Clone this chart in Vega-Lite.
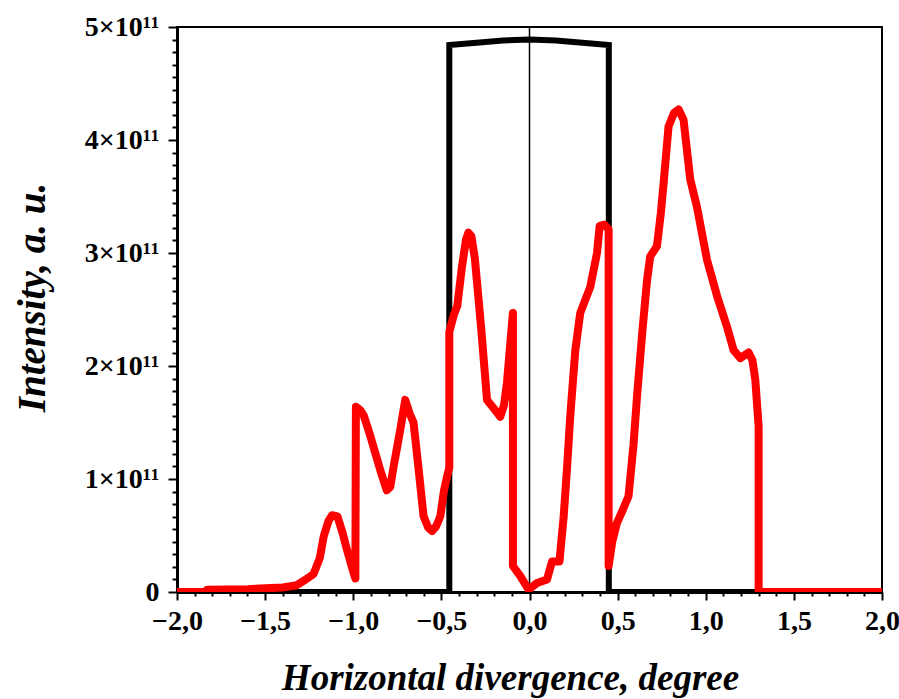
{
  "$schema": "https://vega.github.io/schema/vega-lite/v6.json",
  "width": 705,
  "height": 565,
  "autosize": "none",
  "padding": {"left": 177, "top": 27, "right": 17, "bottom": 107},
  "background": "white",
  "config": {
    "view": {"stroke": "black", "strokeWidth": 2},
    "font": "Liberation Serif",
    "axis": {
      "grid": false,
      "domainColor": "black",
      "domainWidth": 3,
      "tickColor": "black",
      "tickWidth": 2,
      "labelFont": "Liberation Serif",
      "labelFontWeight": "bold",
      "labelFontSize": 28,
      "labelColor": "black",
      "titleFont": "Liberation Serif",
      "titleFontWeight": "bold",
      "titleFontStyle": "italic",
      "titleFontSize": 37,
      "titleColor": "black"
    }
  },
  "datasets": {
    "black": [
      {"i": 0, "x": -2.0, "y": 0},
      {"i": 1, "x": -0.455, "y": 0},
      {"i": 2, "x": -0.455, "y": 4.84e11},
      {"i": 3, "x": -0.3, "y": 4.86e11},
      {"i": 4, "x": -0.15, "y": 4.88e11},
      {"i": 5, "x": 0.0, "y": 4.89e11},
      {"i": 6, "x": 0.15, "y": 4.88e11},
      {"i": 7, "x": 0.3, "y": 4.86e11},
      {"i": 8, "x": 0.45, "y": 4.84e11},
      {"i": 9, "x": 0.45, "y": 0},
      {"i": 10, "x": 2.0, "y": 0}
    ],
    "red": [
      {"i": 0, "x": -2.0, "y": 0.0},
      {"i": 1, "x": -1.84, "y": 0.0},
      {"i": 2, "x": -1.83, "y": 0.02e11},
      {"i": 3, "x": -1.6, "y": 0.025e11},
      {"i": 4, "x": -1.4, "y": 0.04e11},
      {"i": 5, "x": -1.32, "y": 0.06e11},
      {"i": 6, "x": -1.28, "y": 0.1e11},
      {"i": 7, "x": -1.225, "y": 0.16e11},
      {"i": 8, "x": -1.19, "y": 0.3e11},
      {"i": 9, "x": -1.168, "y": 0.49e11},
      {"i": 10, "x": -1.14, "y": 0.63e11},
      {"i": 11, "x": -1.12, "y": 0.68e11},
      {"i": 12, "x": -1.09, "y": 0.67e11},
      {"i": 13, "x": -1.06, "y": 0.52e11},
      {"i": 14, "x": -1.035, "y": 0.37e11},
      {"i": 15, "x": -1.0, "y": 0.18e11},
      {"i": 16, "x": -0.988, "y": 0.12e11},
      {"i": 17, "x": -0.985, "y": 1.64e11},
      {"i": 18, "x": -0.96, "y": 1.61e11},
      {"i": 19, "x": -0.94, "y": 1.56e11},
      {"i": 20, "x": -0.903, "y": 1.38e11},
      {"i": 21, "x": -0.847, "y": 1.08e11},
      {"i": 22, "x": -0.81, "y": 0.9e11},
      {"i": 23, "x": -0.79, "y": 0.93e11},
      {"i": 24, "x": -0.771, "y": 1.11e11},
      {"i": 25, "x": -0.735, "y": 1.42e11},
      {"i": 26, "x": -0.705, "y": 1.7e11},
      {"i": 27, "x": -0.68, "y": 1.58e11},
      {"i": 28, "x": -0.658, "y": 1.5e11},
      {"i": 29, "x": -0.63, "y": 1.1e11},
      {"i": 30, "x": -0.601, "y": 0.67e11},
      {"i": 31, "x": -0.575, "y": 0.57e11},
      {"i": 32, "x": -0.553, "y": 0.54e11},
      {"i": 33, "x": -0.53, "y": 0.58e11},
      {"i": 34, "x": -0.506, "y": 0.67e11},
      {"i": 35, "x": -0.485, "y": 0.9e11},
      {"i": 36, "x": -0.468, "y": 1.02e11},
      {"i": 37, "x": -0.455, "y": 1.1e11},
      {"i": 38, "x": -0.455, "y": 2.3e11},
      {"i": 39, "x": -0.43, "y": 2.45e11},
      {"i": 40, "x": -0.41, "y": 2.53e11},
      {"i": 41, "x": -0.383, "y": 2.88e11},
      {"i": 42, "x": -0.36, "y": 3.12e11},
      {"i": 43, "x": -0.347, "y": 3.18e11},
      {"i": 44, "x": -0.33, "y": 3.15e11},
      {"i": 45, "x": -0.31, "y": 2.95e11},
      {"i": 46, "x": -0.275, "y": 2.35e11},
      {"i": 47, "x": -0.241, "y": 1.7e11},
      {"i": 48, "x": -0.2, "y": 1.62e11},
      {"i": 49, "x": -0.166, "y": 1.55e11},
      {"i": 50, "x": -0.145, "y": 1.65e11},
      {"i": 51, "x": -0.128, "y": 1.85e11},
      {"i": 52, "x": -0.094, "y": 2.47e11},
      {"i": 53, "x": -0.094, "y": 0.23e11},
      {"i": 54, "x": -0.052, "y": 0.14e11},
      {"i": 55, "x": -0.005, "y": 0.02e11},
      {"i": 56, "x": 0.043, "y": 0.08e11},
      {"i": 57, "x": 0.099, "y": 0.11e11},
      {"i": 58, "x": 0.128, "y": 0.27e11},
      {"i": 59, "x": 0.17, "y": 0.27e11},
      {"i": 60, "x": 0.194, "y": 0.67e11},
      {"i": 61, "x": 0.213, "y": 1.1e11},
      {"i": 62, "x": 0.231, "y": 1.55e11},
      {"i": 63, "x": 0.26, "y": 2.14e11},
      {"i": 64, "x": 0.288, "y": 2.47e11},
      {"i": 65, "x": 0.345, "y": 2.7e11},
      {"i": 66, "x": 0.383, "y": 3.0e11},
      {"i": 67, "x": 0.398, "y": 3.24e11},
      {"i": 68, "x": 0.425, "y": 3.25e11},
      {"i": 69, "x": 0.449, "y": 3.21e11},
      {"i": 70, "x": 0.449, "y": 0.23e11},
      {"i": 71, "x": 0.47, "y": 0.45e11},
      {"i": 72, "x": 0.496, "y": 0.61e11},
      {"i": 73, "x": 0.53, "y": 0.73e11},
      {"i": 74, "x": 0.562, "y": 0.85e11},
      {"i": 75, "x": 0.59, "y": 1.3e11},
      {"i": 76, "x": 0.61, "y": 1.73e11},
      {"i": 77, "x": 0.64, "y": 2.3e11},
      {"i": 78, "x": 0.667, "y": 2.76e11},
      {"i": 79, "x": 0.685, "y": 2.97e11},
      {"i": 80, "x": 0.723, "y": 3.06e11},
      {"i": 81, "x": 0.745, "y": 3.35e11},
      {"i": 82, "x": 0.761, "y": 3.62e11},
      {"i": 83, "x": 0.789, "y": 4.12e11},
      {"i": 84, "x": 0.82, "y": 4.24e11},
      {"i": 85, "x": 0.846, "y": 4.27e11},
      {"i": 86, "x": 0.874, "y": 4.18e11},
      {"i": 87, "x": 0.912, "y": 3.65e11},
      {"i": 88, "x": 0.95, "y": 3.41e11},
      {"i": 89, "x": 1.007, "y": 2.94e11},
      {"i": 90, "x": 1.064, "y": 2.62e11},
      {"i": 91, "x": 1.12, "y": 2.35e11},
      {"i": 92, "x": 1.158, "y": 2.14e11},
      {"i": 93, "x": 1.196, "y": 2.07e11},
      {"i": 94, "x": 1.243, "y": 2.12e11},
      {"i": 95, "x": 1.265, "y": 2.05e11},
      {"i": 96, "x": 1.281, "y": 1.88e11},
      {"i": 97, "x": 1.3, "y": 1.47e11},
      {"i": 98, "x": 1.3, "y": 0.0},
      {"i": 99, "x": 2.0, "y": 0.0}
    ],
    "zero": [{"x": 0}]
  },
  "resolve": {"axis": {"x": "independent", "y": "independent"}},
  "layer": [
    {
      "data": {"name": "black"},
      "mark": {"type": "line", "color": "black", "strokeWidth": 6, "strokeJoin": "miter", "clip": true},
      "encoding": {
        "x": {
          "field": "x", "type": "quantitative",
          "scale": {"domain": [-2, 2], "nice": false, "zero": false},
          "axis": {
            "orient": "bottom",
            "title": "Horizontal divergence, degree",
            "values": [-2, -1.5, -1, -0.5, 0, 0.5, 1, 1.5, 2],
            "labelExpr": "replace(format(datum.value, '.1f'), '.', ',')",
            "tickSize": 8,
            "labelPadding": 7,
            "labelFlush": false,
            "titleX": 333,
            "titleY": 97,
            "titleBaseline": "alphabetic",
            "titleAlign": "center"
          }
        },
        "y": {
          "field": "y", "type": "quantitative",
          "scale": {"domain": [0, 5e11], "nice": false},
          "axis": {
            "orient": "left",
            "title": "Intensity, a. u.",
            "values": [0, 1e11, 2e11, 3e11, 4e11, 5e11],
            "labelExpr": "datum.value == 0 ? '0' : format(datum.value / 1e11, 'd') + '×10¹¹'",
            "tickSize": 9,
            "labelPadding": 9,
            "labelFlush": false,
            "titleFontSize": 39,
            "titleX": -133,
            "titleY": 270,
            "titleAngle": -90,
            "titleBaseline": "alphabetic",
            "titleAlign": "center"
          }
        },
        "order": {"field": "i", "type": "quantitative"}
      }
    },
    {
      "data": {"name": "zero"},
      "mark": {"type": "rule", "color": "black", "strokeWidth": 1.5},
      "encoding": {
        "x": {"field": "x", "type": "quantitative", "axis": null}
      }
    },
    {
      "data": {"name": "red"},
      "mark": {"type": "line", "color": "#ff0000", "strokeWidth": 8, "strokeJoin": "round", "clip": true},
      "encoding": {
        "x": {
          "field": "x", "type": "quantitative",
          "axis": {
            "orient": "bottom",
            "title": null,
            "domain": false,
            "labels": false,
            "tickSize": 4,
            "values": [-1.9, -1.8, -1.7, -1.6, -1.4, -1.3, -1.2, -1.1, -0.9, -0.8, -0.7, -0.6, -0.4, -0.3, -0.2, -0.1, 0.1, 0.2, 0.3, 0.4, 0.6, 0.7, 0.8, 0.9, 1.1, 1.2, 1.3, 1.4, 1.6, 1.7, 1.8, 1.9]
          }
        },
        "y": {
          "field": "y", "type": "quantitative",
          "axis": {
            "orient": "left",
            "title": null,
            "domain": false,
            "labels": false,
            "tickSize": 5,
            "values": [11111111111, 22222222222, 33333333333, 44444444444, 55555555556, 66666666667, 77777777778, 88888888889,
                       111111111111, 122222222222, 133333333333, 144444444444, 155555555556, 166666666667, 177777777778, 188888888889,
                       211111111111, 222222222222, 233333333333, 244444444444, 255555555556, 266666666667, 277777777778, 288888888889,
                       311111111111, 322222222222, 333333333333, 344444444444, 355555555556, 366666666667, 377777777778, 388888888889,
                       411111111111, 422222222222, 433333333333, 444444444444, 455555555556, 466666666667, 477777777778, 488888888889]
          }
        },
        "order": {"field": "i", "type": "quantitative"}
      }
    }
  ]
}
